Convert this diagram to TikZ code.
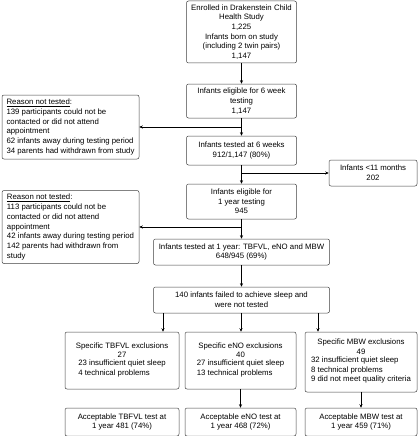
\documentclass[tikz,border=0pt]{standalone}
\usepackage{fontspec}
\setmainfont{Liberation Sans}
\usetikzlibrary{arrows.meta}

\tikzset{
  box/.style={draw=black!75, line width=0.5pt, rounded corners=2pt, inner sep=2pt,
    align=center, font=\fontsize{7.8}{9.7}\selectfont},
  leftbox/.style={box, align=left},
}

\begin{document}
\begin{tikzpicture}[x=1pt, y=-1pt, >={Stealth[length=3.5pt,width=3pt]}, line width=0.5pt]
    \useasboundingbox (0,0) rectangle (418,436);
    % main column
    \node[box, minimum width=110pt, minimum height=62pt] (enrol) at (241.5,32)
      {Enrolled in Drakenstein Child\\Health Study\\1,225\\Infants born on study\\(including 2 twin pairs)\\1,147};
    \node[box, minimum width=110pt, minimum height=34pt] (elig6) at (241.5,101)
      {Infants eligible for 6 week\\testing\\1,147};
    \node[box, minimum width=110pt, minimum height=29pt] (test6) at (241.5,150.5)
      {Infants tested at 6 weeks\\912/1,147 (80\%)};
    \node[box, minimum width=110pt, minimum height=35pt] (elig1) at (241.5,201.5)
      {Infants eligible for\\1 year testing\\945};
    \node[box, minimum width=176pt, minimum height=26pt] (test1) at (241.5,252)
      {Infants tested at 1 year: TBFVL, eNO and MBW\\648/945 (69\%)};
    \node[box, minimum width=176pt, minimum height=26pt] (nosleep) at (241.5,300)
      {140 infants failed to achieve sleep and\\were not tested};
    % side boxes
    \node[leftbox, minimum width=137pt, minimum height=64pt] (why6) at (70.5,127)
      {\underline{Reason not tested}:\\139 participants could not be\\contacted or did not attend\\appointment\\62 infants away during testing period\\34 parents had withdrawn from study};
    \node[box, minimum width=88pt, minimum height=26pt] (young) at (373,173)
      {Infants <11 months\\202};
    \node[leftbox, minimum width=137pt, minimum height=73pt] (why1) at (70.5,227)
      {\underline{Reason not tested}:\\113 participants could not be\\contacted or did not attend\\appointment\\42 infants away during testing period\\142 parents had withdrawn from\\study};
    % exclusions
    \node[box, minimum width=114pt, minimum height=57pt] (exTB) at (122,360.5)
      {Specific TBFVL exclusions\\27\\\begin{tabular}{@{}l@{}}23 insufficient quiet sleep\\4 technical problems\end{tabular}};
    \node[box, minimum width=111pt, minimum height=57pt] (exNO) at (240.5,360.5)
      {Specific eNO exclusions\\40\\\begin{tabular}{@{}l@{}}27 insufficient quiet sleep\\13 technical problems\end{tabular}};
    \node[box, minimum width=112pt, minimum height=60pt] (exMBW) at (361,362)
      {Specific MBW exclusions\\49\\\begin{tabular}{@{}l@{}}32 insufficient quiet sleep\\8 technical problems\\9 did not meet quality criteria\end{tabular}};
    % results
    \node[box, minimum width=114pt, minimum height=28pt] (accTB) at (122,422)
      {Acceptable TBFVL test at\\1 year 481 (74\%)};
    \node[box, minimum width=111pt, minimum height=28pt] (accNO) at (240.5,422)
      {Acceptable eNO test at\\1 year 468 (72\%)};
    \node[box, minimum width=112pt, minimum height=28pt] (accMBW) at (361,422)
      {Acceptable MBW test at\\1 year 459 (71\%)};

    \coordinate (j6)  at (241.5,127);
    \coordinate (j11) at (241.5,173);
    \coordinate (j1)  at (241.5,227);
    \coordinate (c1) at (163,0);
    \coordinate (c2) at (241,0);
    \coordinate (c3) at (318,0);

    \path[->] (enrol) edge (elig6);
    \draw (elig6) -- (j6);
    \path[->] (j6)  edge (test6)
                    edge (why6);
    \draw (test6) -- (j11);
    \path[->] (j11) edge (elig1)
                    edge (young);
    \draw (elig1) -- (j1);
    \path[->] (j1)  edge (test1)
                    edge (why1)
              (test1) edge (nosleep);
    \path[->] (nosleep.south -| c1) edge (exTB.north -| c1)
              (nosleep.south -| c2) edge (exNO.north -| c2)
              (nosleep.south -| c3) edge (exMBW.north -| c3)
              (exNO)  edge (accNO)
              (exMBW) edge (accMBW);
\end{tikzpicture}
\end{document}
